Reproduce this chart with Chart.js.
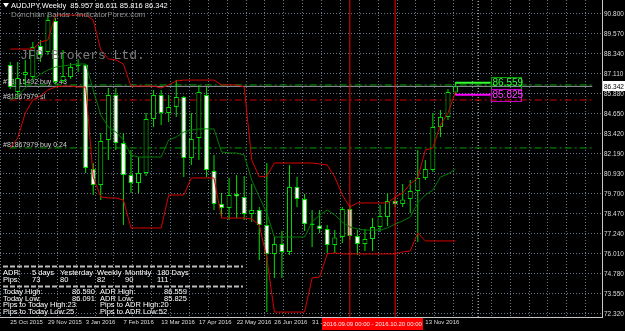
<!DOCTYPE html>
<html>
<head>
<meta charset="utf-8">
<script src="https://cdn.jsdelivr.net/npm/chart.js@4.4.1/dist/chart.umd.min.js"></script>
<style>
html, body { margin: 0; padding: 0; background: #000; overflow: hidden; }
canvas { display: block; }
</style>
</head>
<body>
<canvas id="chart" width="625" height="331"></canvas>
<script>
// AUDJPY weekly candles, week of 25 Oct 2015 (index 0) to week of 11 Dec 2016
const opens  = [87.66, 85.99, 87.04, 86.92, 88.83, 88.46, 90.37, 86.67, 86.92, 87.60,
                87.66, 81.25, 80.27, 83.04, 85.81, 82.85, 80.88, 80.39, 81.01, 84.33,
                85.81, 84.70, 85.07, 85.69, 81.93, 83.16, 85.81, 81.13, 79.10, 78.85,
                79.71, 79.53, 78.48, 78.73, 77.80, 76.02, 76.63, 76.14, 80.14, 79.40,
                77.80, 77.77, 77.56, 76.57, 77.06, 78.79, 77.12, 76.63, 76.94, 77.68,
                78.30, 79.28, 79.10, 79.40, 79.90, 80.70, 81.19, 83.84, 84.46, 85.957];
const highs  = [87.84, 87.84, 87.97, 89.07, 89.20, 90.74, 90.55, 88.58, 87.78, 88.03,
                87.72, 81.62, 83.47, 86.24, 86.24, 83.47, 82.42, 81.99, 84.70, 86.12,
                86.12, 85.81, 86.73, 85.75, 84.70, 86.43, 86.30, 82.11, 79.77, 80.70,
                80.88, 80.82, 80.33, 78.91, 81.62, 77.06, 77.43, 81.50, 80.76, 79.71,
                78.73, 78.73, 77.80, 77.49, 78.91, 79.03, 77.49, 77.56, 78.23, 79.03,
                79.77, 79.53, 80.33, 80.57, 82.42, 81.81, 84.70, 84.89, 86.18, 86.611];
const lows   = [86.18, 85.69, 86.43, 86.80, 87.84, 88.27, 86.49, 86.55, 86.80, 87.23,
                81.01, 79.65, 79.34, 81.81, 82.42, 77.80, 79.77, 79.77, 80.82, 83.84,
                83.96, 84.15, 84.46, 80.76, 81.50, 81.81, 80.76, 78.73, 78.23, 78.11,
                78.23, 78.11, 77.99, 75.65, 72.44, 74.54, 74.54, 75.95, 78.91, 77.43,
                76.45, 77.31, 76.08, 76.08, 76.69, 76.88, 75.95, 76.20, 76.20, 77.37,
                77.74, 78.91, 78.91, 78.54, 76.75, 80.57, 81.07, 83.22, 84.27, 85.816];
const closes = [86.30, 86.86, 87.23, 88.77, 88.27, 90.43, 86.61, 86.98, 87.53, 87.66,
                81.31, 80.27, 82.98, 85.81, 82.85, 80.88, 80.39, 81.01, 84.33, 85.81,
                84.70, 85.07, 85.69, 81.93, 83.10, 85.99, 81.19, 79.10, 78.85, 79.65,
                79.56, 78.48, 78.73, 77.80, 76.02, 76.63, 76.14, 80.14, 79.40, 77.86,
                77.89, 77.56, 76.57, 77.03, 78.79, 77.12, 76.63, 76.94, 77.68, 78.36,
                79.28, 79.10, 79.37, 79.90, 80.70, 81.25, 83.84, 84.46, 85.99, 86.342];

// Donchian bands
const upperBand  = [88.64, 88.64, 88.64, 88.64, 89.07, 89.20, 90.74, 90.74, 90.74, 90.74,
                    90.74, 90.43, 88.58, 88.03, 87.97, 87.72, 86.36, 86.36, 86.36, 86.36,
                    86.24, 86.43, 86.67, 86.73, 86.73, 86.73, 86.73, 86.73, 86.43, 86.43,
                    86.43, 86.30, 81.81, 80.76, 80.82, 81.62, 81.62, 81.62, 81.62, 81.62,
                    81.62, 81.56, 81.50, 80.76, 79.65, 78.91, 79.16, 79.16, 79.16, 79.16,
                    79.16, 79.53, 79.77, 80.33, 80.70, 82.42, 82.55, 83.96, 84.70, 85.99];
const middleBand = [85.50, 85.75, 86.24, 86.73, 87.10, 87.35, 87.53, 87.60, 87.66, 87.72,
                    87.72, 86.12, 84.58, 83.84, 83.53, 83.04, 82.11, 81.99, 81.99, 81.99,
                    81.99, 83.04, 83.22, 83.53, 83.65, 83.72, 83.72, 83.72, 82.30, 82.24,
                    82.24, 82.11, 80.57, 79.53, 78.54, 77.06, 77.06, 77.06, 77.06, 77.06,
                    77.99, 78.42, 78.73, 78.42, 77.99, 77.68, 77.56, 77.49, 77.49, 77.49,
                    77.62, 77.86, 78.05, 78.30, 79.16, 79.65, 79.96, 80.76, 80.94, 81.25];
const lowerBand  = [82.55, 83.16, 84.70, 85.50, 85.75, 86.12, 86.30, 86.36, 86.36, 86.30,
                    86.30, 80.76, 79.53, 79.47, 79.47, 79.34, 77.62, 77.62, 77.62, 77.62,
                    77.62, 79.65, 79.65, 79.65, 80.70, 80.70, 80.70, 80.70, 78.23, 78.23,
                    78.23, 78.23, 78.17, 77.80, 75.77, 72.44, 72.44, 72.44, 72.44, 72.44,
                    74.54, 74.60, 76.02, 76.08, 76.02, 76.02, 76.02, 76.02, 76.02, 76.02,
                    76.02, 76.02, 76.14, 76.20, 77.31, 76.82, 76.82, 76.82, 76.82, 76.82];

// axis labels
const dateLabels = ['25 Oct 2015', '29 Nov 2015', '3 Jan 2016', '7 Feb 2016', '13 Mar 2016',
                    '17 Apr 2016', '22 May 2016', '26 Jun 2016', '31 Jul 2016', '', '', '13 Nov 2016'];
const priceLabels = ['90.800', '89.570', '88.340', '87.110', '85.880', '84.650', '83.420', '82.190',
                     '80.930', '79.700', '78.470', '77.240', '76.010', '74.780', '73.550', '72.320'];
const priceTop = 90.8;
const priceStep = 1.232;

// trade lines and levels
const bidPrice = 86.342;
const orderLabels = ['#73815492 buy 0.43', '#81867979 sl', '#81867979 buy 0.24'];
const orderPrices = [86.43, 85.50, 82.55];
const adrHigh = 86.559;
const adrLow = 85.825;
const periodBars = [45, 51];
const periodText = '2016.09.09 00:00 - 2016.10.20 00:00';
const todayBar = 62;

// ADR panel
const adrHeaders = ['5 days', 'Yesterday', 'Weekly', 'Monthly', '180 Days'];
const adrPips = [73, 80, 82, 90, 111];
const todayHigh = '86.590';
const todayLow = '86.091';
const pipsToTodayHigh = 23;
const pipsToTodayLow = 25;
const pipsToAdrHigh = 20;
const pipsToAdrLow = 52;

const titleText = 'AUDJPY,Weekly  85.957 86.611 85.816 86.342';
const indicatorName = 'Donchian Bands - IndicatorForex.com';
const watermark = 'JFD Brokers Ltd.';

const FONT = "'Liberation Sans', Arial, sans-serif";
const xMin = -0.064, xMax = 77.12;
const yMin = 72.135, yMax = 91.662;
const CANDLE = '#00e000';

const idx = closes.map((_, i) => i);
const series = arr => arr.map((v, i) => ({x: i, y: v}));
const hLine = (p, x0, x1, color, width, dash, order) => ({
    type: 'line', data: [{x: x0, y: p}, {x: x1, y: p}], borderColor: color,
    borderWidth: width, borderDash: dash, pointRadius: 0, order: order
});
const vLine = (b, color, dash, order) => ({
    type: 'line', data: [{x: b, y: yMin}, {x: b, y: yMax}], borderColor: color,
    borderWidth: 1, borderDash: dash, pointRadius: 0, order: order
});

const datasets = [
    hLine(orderPrices[0], xMin, xMax, '#00a000', 1, [7, 3, 2, 3], 7),
    hLine(orderPrices[1], xMin, xMax, '#d00000', 1, [7, 3, 2, 3], 7),
    hLine(orderPrices[2], xMin, xMax, '#00a000', 1, [7, 3, 2, 3], 7),
    hLine(bidPrice, xMin, xMax, '#9aa0a8', 1, [], 7),
    vLine(todayBar, '#e8e8e8', [1, 2], 7),
    {   // wicks
        type: 'bar', data: idx.map(i => ({x: i, y: [lows[i], highs[i]]})),
        backgroundColor: CANDLE, borderWidth: 0, maxBarThickness: 1, grouped: false, order: 5
    },
    {   // bodies
        type: 'bar', data: idx.map(i => ({x: i, y: [opens[i], closes[i]]})),
        backgroundColor: idx.map(i => closes[i] >= opens[i] ? '#000000' : '#ffffff'),
        borderColor: CANDLE, borderWidth: 1, borderSkipped: false,
        maxBarThickness: 5, grouped: false, order: 4
    },
    { type: 'line', data: series(middleBand), borderColor: '#007a00', borderWidth: 1, pointRadius: 0, order: 3 },
    { type: 'line', data: series(upperBand), borderColor: '#d80000', borderWidth: 1, pointRadius: 0, order: 3 },
    { type: 'line', data: series(lowerBand), borderColor: '#d80000', borderWidth: 1, pointRadius: 0, order: 3 },
    vLine(periodBars[0], '#ff0000', [], 2),
    vLine(periodBars[1], '#ff0000', [], 2),
    hLine(adrHigh, closes.length - 1, 63.65, '#33ff33', 2, [], 1),
    hLine(adrLow, closes.length - 1, 63.65, '#ff00ff', 2, [], 1)
];

const overlay = {
    id: 'overlay',
    beforeDraw(chart) {
        const ctx = chart.ctx;
        ctx.save();
        ctx.fillStyle = '#000';
        ctx.fillRect(0, 0, chart.width, chart.height);
        ctx.restore();
    },
    beforeDatasetsDraw(chart) {
        const ctx = chart.ctx;
        const y = chart.scales.y;
        ctx.save();
        ctx.font = '7px ' + FONT;
        ctx.fillStyle = '#d0d0d0';
        ctx.textBaseline = 'bottom';
        orderLabels.forEach((t, k) => ctx.fillText(t, 3, y.getPixelForValue(orderPrices[k]) + 1));
        ctx.restore();
    },
    afterDatasetsDraw(chart) {
        const ctx = chart.ctx;
        ctx.save();
        ctx.textBaseline = 'middle';
        ctx.font = "13px 'Liberation Mono', monospace";
        ctx.fillStyle = '#7a7a7a';
        ctx.fillText(watermark, 20, 56);
        ctx.restore();
    },
    afterDraw(chart) {
        const ctx = chart.ctx;
        const {x, y} = chart.scales;
        const area = chart.chartArea;
        ctx.save();
        ctx.textBaseline = 'middle';

        // title
        ctx.fillStyle = '#ffffff';
        ctx.beginPath();
        ctx.moveTo(3, 3); ctx.lineTo(9, 3); ctx.lineTo(6, 7.5);
        ctx.closePath(); ctx.fill();
        ctx.font = '7.5px ' + FONT;
        ctx.fillText(titleText, 11, 5.5);
        ctx.fillStyle = '#8c8c8c';
        ctx.font = '8px ' + FONT;
        ctx.fillText(indicatorName, 11, 15);

        // ADR panel
        ctx.strokeStyle = '#bdbdbd';
        ctx.lineWidth = 2;
        ctx.setLineDash([5, 2]);
        [266.5, 286.5].forEach(ly => {
            ctx.beginPath(); ctx.moveTo(3, ly); ctx.lineTo(243, ly); ctx.stroke();
        });
        ctx.setLineDash([]);
        ctx.fillStyle = '#ffffff';
        ctx.font = '7.5px ' + FONT;
        const cols = [32, 60, 97, 125, 157];
        ctx.fillText('ADR:', 3, 273);
        ctx.fillText('Pips:', 3, 280);
        adrHeaders.forEach((h, k) => ctx.fillText(h, cols[k], 273));
        adrPips.forEach((p, k) => ctx.fillText(String(p), cols[k], 280));
        ctx.fillText('Today High:', 3, 292);
        ctx.fillText(todayHigh, 72, 292);
        ctx.fillText('ADR High:', 100, 292);
        ctx.fillText(adrHigh.toFixed(3), 164, 292);
        ctx.fillText('Today Low:', 3, 298.5);
        ctx.fillText(todayLow, 72, 298.5);
        ctx.fillText('ADR Low:', 100, 298.5);
        ctx.fillText(adrLow.toFixed(3), 164, 298.5);
        ctx.fillText('Pips to Today High:' + pipsToTodayHigh, 3, 305);
        ctx.fillText('Pips to ADR High:' + pipsToAdrHigh, 100, 305);
        ctx.fillText('Pips to Today Low:' + pipsToTodayLow, 3, 311.5);
        ctx.fillText('Pips to ADR Low:' + pipsToAdrLow, 100, 311.5);

        // ADR level tags at the right end of the short lines
        const bx = Math.round(x.getPixelForValue(63.65));
        ctx.font = '10px ' + FONT;
        ctx.lineWidth = 1;
        [[adrHigh, '#33ff33', '#00a000'], [adrLow, '#ff33ff', '#c000c0']].forEach(([p, tc, bc]) => {
            const py = y.getPixelForValue(p);
            ctx.strokeStyle = bc;
            ctx.strokeRect(bx + 0.5, Math.round(py - 6) + 0.5, 30, 12);
            ctx.fillStyle = tc;
            ctx.fillText(p.toFixed(3), bx + 1.5, py + 0.5);
        });

        // bid price tag on the price axis
        const by = y.getPixelForValue(bidPrice);
        ctx.fillStyle = '#ffffff';
        ctx.fillRect(area.right + 1, Math.round(by - 5), 24, 10);
        ctx.fillStyle = '#000000';
        ctx.font = '6.5px ' + FONT;
        ctx.fillText(bidPrice.toFixed(3), area.right + 2, by + 0.5);

        // period label on the time axis
        ctx.font = '6px ' + FONT;
        const cx = (x.getPixelForValue(periodBars[0]) + x.getPixelForValue(periodBars[1])) / 2;
        const tw = ctx.measureText(periodText).width + 2;
        ctx.fillStyle = '#ff0000';
        ctx.fillRect(Math.round(cx - tw / 2), area.bottom + 1, Math.round(tw), 12);
        ctx.fillStyle = '#ffe8e8';
        ctx.textAlign = 'center';
        ctx.fillText(periodText, cx, area.bottom + 7.5);
        ctx.restore();
    }
};

new Chart(document.getElementById('chart'), {
    type: 'bar',
    data: { datasets: datasets },
    options: {
        responsive: false,
        animation: false,
        events: [],
        layout: { padding: 0 },
        plugins: { legend: { display: false }, tooltip: { enabled: false } },
        scales: {
            x: {
                type: 'linear', position: 'bottom', min: xMin, max: xMax,
                afterBuildTicks: s => {
                    s.ticks = [];
                    for (let v = 0; v <= xMax; v += 2.5) s.ticks.push({value: v});
                },
                afterFit: s => { s.height = 14; s.paddingLeft = 0; s.paddingRight = 0; },
                ticks: {
                    autoSkip: false, maxRotation: 0, align: 'start', padding: 2,
                    color: '#dcdcdc', font: { family: FONT, size: 6 },
                    callback: v => (v % 5 === 0 && dateLabels[v / 5]) ? dateLabels[v / 5] : ''
                },
                grid: { color: '#66778a', drawTicks: false },
                border: { color: '#c8c8c8', width: 1, dash: [1, 2] }
            },
            y: {
                position: 'right', min: yMin, max: yMax,
                afterBuildTicks: s => {
                    s.ticks = priceLabels.map((_, k) => ({value: priceTop - k * priceStep}));
                },
                afterFit: s => { s.width = 23; s.paddingTop = 0; s.paddingBottom = 0; },
                ticks: {
                    autoSkip: false, padding: 2, color: '#dcdcdc',
                    font: { family: FONT, size: 6.5 },
                    callback: (v, i) => priceLabels[i]
                },
                grid: { color: '#66778a', drawTicks: false },
                border: { color: '#c8c8c8', width: 1, dash: [1, 2] }
            }
        }
    },
    plugins: [overlay]
});
</script>
</body>
</html>
